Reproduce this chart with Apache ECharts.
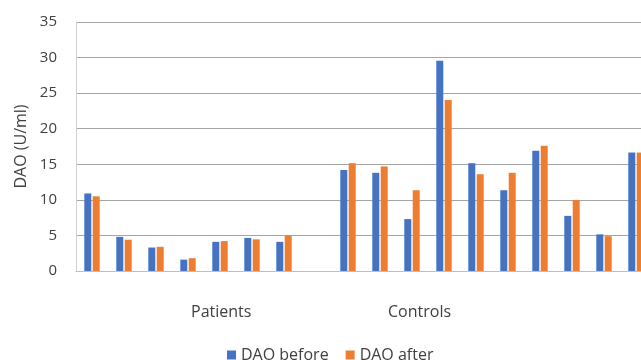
<!DOCTYPE html>
<html>
<head>
<meta charset="utf-8">
<script src="https://cdn.jsdelivr.net/npm/echarts@6/dist/echarts.min.js"></script>
<style>html,body{margin:0;padding:0;background:#fff;overflow:hidden}#c{width:652px;height:360px}</style>
</head>
<body>
<div id="c"></div>
<script>
var categories = ['P1','P2','P3','P4','P5','P6','P7','','C1','C2','C3','C4','C5','C6','C7','C8','C9','C10'];
var daoBefore = [10.9, 4.8, 3.3, 1.6, 4.1, 4.65, 4.1, null, 14.2, 13.8, 7.3, 29.55, 15.15, 11.35, 16.9, 7.75, 5.15, 16.65];
var daoAfter  = [10.5, 4.4, 3.4, 1.8, 4.2, 4.45, 5.0, null, 15.15, 14.7, 11.35, 24.05, 13.6, 13.8, 17.6, 10.0, 4.9, 16.65];
var groupLabels = ['Patients', 'Controls'];
var yTicks = {min: 0, max: 35, interval: 5};

var chart = echarts.init(document.getElementById('c'), null, {renderer: 'canvas'});
var font = '"Open Sans", sans-serif';
chart.setOption({
  animation: false,
  textStyle: {fontFamily: font},
  grid: {left: 76, top: 22, right: 0, height: 249, containLabel: false},
  legend: {
    data: ['DAO before', 'DAO after'],
    left: 222, top: 342,
    icon: 'rect', itemWidth: 9, itemHeight: 9, itemGap: 17,
    textStyle: {fontSize: 16, color: '#404040', fontFamily: font}
  },
  graphic: [
    {type: 'text', left: 222 - 31, top: 304, style: {text: groupLabels[0], font: '16px "Open Sans", sans-serif', fill: '#404040'}},
    {type: 'text', left: 421 - 33, top: 304, style: {text: groupLabels[1], font: '16px "Open Sans", sans-serif', fill: '#404040'}}
  ],
  xAxis: {
    type: 'category', data: categories,
    axisLine: {show: true, lineStyle: {color: '#bfbfbf', width: 1}},
    axisTick: {show: false},
    axisLabel: {show: false},
    splitLine: {show: false}
  },
  yAxis: {
    type: 'value', min: yTicks.min, max: yTicks.max, interval: yTicks.interval,
    name: 'DAO (U/ml)', nameLocation: 'middle', nameGap: 47,
    nameTextStyle: {fontSize: 16, color: '#404040', fontFamily: font},
    axisLine: {show: true, lineStyle: {color: '#d0d0d0'}},
    axisTick: {show: false},
    axisLabel: {fontSize: 15, color: '#404040', margin: 19, fontFamily: font},
    splitLine: {lineStyle: {color: '#a6a6a6', width: 1}}
  },
  series: [
    {name: 'DAO before', type: 'bar', data: daoBefore, barWidth: 7, barGap: '20%', itemStyle: {color: '#4472C4'}},
    {name: 'DAO after', type: 'bar', data: daoAfter, barWidth: 7, barGap: '20%', itemStyle: {color: '#ED7D31'}}
  ]
});
</script>
</body>
</html>
